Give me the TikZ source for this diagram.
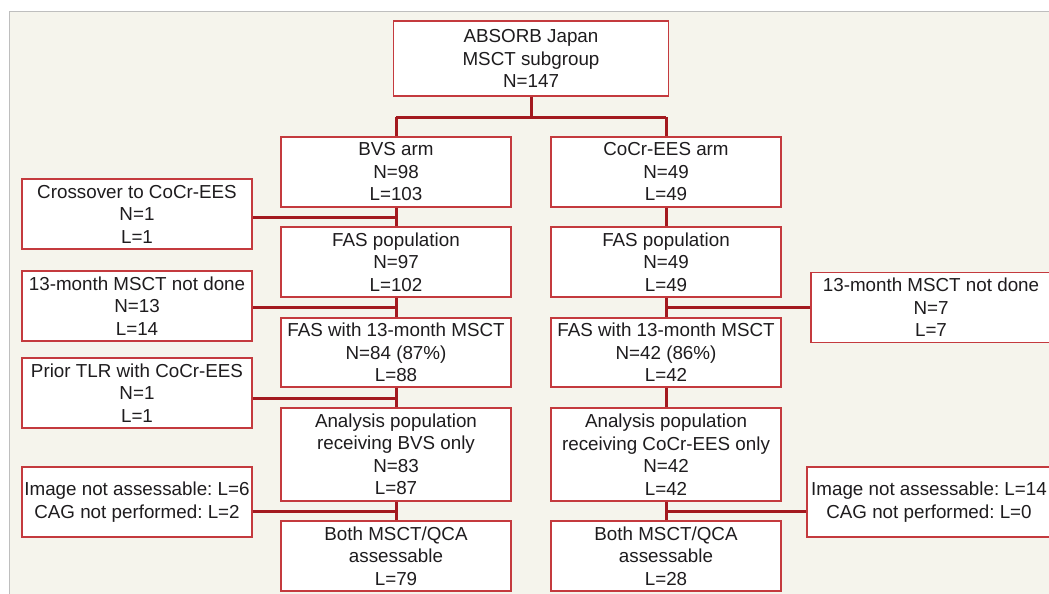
\documentclass[tikz,border=0pt]{standalone}
\usepackage{fontspec}
\setmainfont{Liberation Sans}
\frenchspacing
\definecolor{bg}{RGB}{245,244,236}
\definecolor{frame}{RGB}{190,190,190}
\definecolor{boxred}{RGB}{196,58,62}
\definecolor{linered}{RGB}{163,25,31}
\definecolor{txt}{RGB}{30,28,30}
\tikzset{
  fbox/.style={draw=boxred, line width=1.4pt, fill=white, minimum width=230pt, minimum height=70pt,
    align=center, inner sep=0pt, text=txt, font=\fontsize{18.8}{22.5}\selectfont},
  conn/.style={draw=linered, line width=3pt}
}
\begin{document}
\begin{tikzpicture}[x=1pt,y=-1pt]
\useasboundingbox (0,0) rectangle (1049,594);
\fill[white] (0,0) rectangle (1049,594);
\fill[bg] (9,11) rectangle (1049,594);
\draw[frame, line width=1.2pt] (9.5,594) -- (9.5,11.5) -- (1049,11.5);

\coordinate (jt) at (531,117);
\coordinate (jl) at (396,117);
\coordinate (jr) at (666,117);
\coordinate (b1) at (396,217);
\coordinate (b2) at (396,307);
\coordinate (b3) at (396,398);
\coordinate (b4) at (396,511);
\coordinate (c2) at (666,307);
\coordinate (c4) at (666,511);

\node[fbox, minimum width=275pt, minimum height=75pt] (top) at (531,58.5) {ABSORB Japan\\MSCT subgroup\\N=147};

\node[fbox] (bvs) at (396,172) {BVS arm\\N=98\\L=103};
\node[fbox] (cocr) at (666,172) {CoCr-EES arm\\N=49\\L=49};
\node[fbox] (fasl) at (396,262) {FAS population\\N=97\\L=102};
\node[fbox] (fasr) at (666,262) {FAS population\\N=49\\L=49};
\node[fbox, minimum height=69pt] (f13l) at (396,352.5) {FAS with 13-month MSCT\\N=84 (87\%)\\L=88};
\node[fbox, minimum height=69pt] (f13r) at (666,352.5) {FAS with 13-month MSCT\\N=42 (86\%)\\L=42};
\node[fbox, minimum height=93pt] (anl) at (396,454.5) {Analysis population\\receiving BVS only\\N=83\\L=87};
\node[fbox, minimum height=93pt] (anr) at (666,454.5) {Analysis population\\receiving CoCr-EES only\\N=42\\L=42};
\node[fbox] (bothl) at (396,556) {Both MSCT/QCA\\assessable\\L=79};
\node[fbox] (bothr) at (666,556) {Both MSCT/QCA\\assessable\\L=28};

\node[fbox] (cross) at (137,214) {Crossover to CoCr-EES\\N=1\\L=1};
\node[fbox] (nd1) at (137,306) {13-month MSCT not done\\N=13\\L=14};
\node[fbox] (tlr) at (137,393) {Prior TLR with CoCr-EES\\N=1\\L=1};
\node[fbox] (img1) at (137,502) {Image not assessable: L=6\\CAG not performed: L=2};

\node[fbox, minimum width=240pt] (nd2) at (931,307.5) {13-month MSCT not done\\N=7\\L=7};
\node[fbox, minimum width=244pt] (img2) at (929,502) {Image not assessable: L=14\\CAG not performed: L=0};

\path[conn] (top.south) -- (jt);
\path[conn] (jl) -- (jr);
\path[conn] (jl) -- (bvs.north);
\path[conn] (jr) -- (cocr.north);
\path[conn] (bvs.south) -- (fasl.north);
\path[conn] (fasl.south) -- (f13l.north);
\path[conn] (f13l.south) -- (anl.north);
\path[conn] (anl.south) -- (bothl.north);
\path[conn] (cocr.south) -- (fasr.north);
\path[conn] (fasr.south) -- (f13r.north);
\path[conn] (f13r.south) -- (anr.north);
\path[conn] (anr.south) -- (bothr.north);
\path[conn] (cross.east |- b1) -- (b1);
\path[conn] (nd1.east |- b2) -- (b2);
\path[conn] (tlr.east |- b3) -- (b3);
\path[conn] (img1.east |- b4) -- (b4);
\path[conn] (nd2.west |- c2) -- (c2);
\path[conn] (img2.west |- c4) -- (c4);
\end{tikzpicture}
\end{document}
